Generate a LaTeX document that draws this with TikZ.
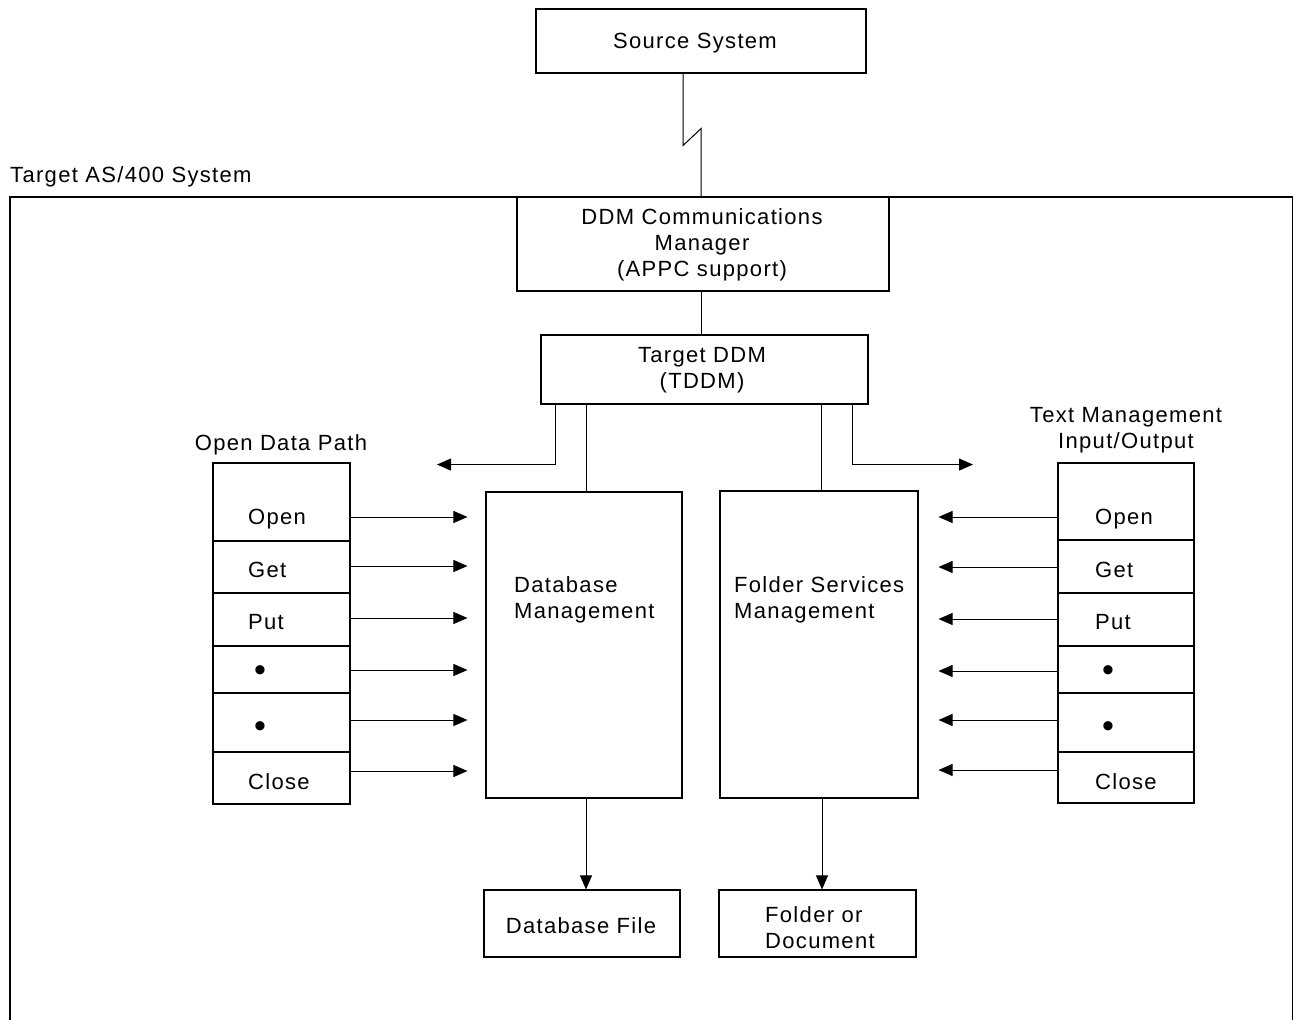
\documentclass[tikz,border=0pt]{standalone}
\usepackage{fontspec}
\setmainfont{Liberation Sans}[LetterSpace=6]
\usetikzlibrary{arrows.meta,calc}

\begin{document}
\begin{tikzpicture}[x=1pt,y=-1pt,
  every node/.style={font=\fontsize{22}{26}\selectfont, inner sep=0pt},
  box/.style={draw, line width=1.1pt, rectangle},
  cell/.style={draw, line width=1.1pt, rectangle, minimum width=137pt},
  lbl/.style={align=left},
  dot/.style={font=\fontsize{34}{34}\selectfont},
  conn/.style={line width=1pt},
  arr/.style={line width=0.9pt, -{Triangle[length=14pt,width=12pt]}}]

\useasboundingbox (0,0) rectangle (1294,1020);

% enclosing system frame, open at the bottom
\draw[line width=1.1pt] (10,1030) -- (10,197) -- (1292.5,197) -- (1292.5,1030);
\node[anchor=base west] (syslbl) at (10,182) {Target AS/400 System};

% main boxes
\node[box, minimum width=330pt, minimum height=64pt] (src) at (701,41) {};
\node (srctxt) at (695,43) {Source System};
\node[box, minimum width=372pt, minimum height=94pt] (ddm) at (703,244) {};
\node[align=center] (ddmtxt) at (702,245)
  {DDM Communications\\Manager\\(APPC support)};
\node[box, minimum width=327pt, minimum height=69pt] (tddm) at (704.5,369.5) {};
\node[align=center] (tddmtxt) at (702,370) {Target DDM\\(TDDM)};
\node[box, minimum width=196pt, minimum height=306pt] (dbm) at (584,645) {};
\node[box, minimum width=198pt, minimum height=307pt] (fsm) at (819,644.5) {};
\node[lbl, anchor=west] (dbmlbl) at (514,599.5) {Database\\Management};
\node[lbl, anchor=west] (fsmlbl) at (734,599.5) {Folder Services\\Management};
\node[box, minimum width=196pt, minimum height=67pt] (dbf) at (582,923.5) {};
\node (dbftxt) at (581,926) {Database File};
\node[box, minimum width=197pt, minimum height=67pt] (fod) at (817.5,923.5) {};
\node[lbl, anchor=west] (fodlbl) at (765,928) {Folder or\\Document};

% Open Data Path stack
\node (odplbl) at (281,445) {Open Data Path};
\node[cell, minimum height=78pt] (o1) at (281.5,502) {};
\node[cell, minimum height=52pt] (o2) at (281.5,567) {};
\node[cell, minimum height=53pt] (o3) at (281.5,619.5) {};
\node[cell, minimum height=47pt] (o4) at (281.5,669.5) {};
\node[cell, minimum height=59pt] (o5) at (281.5,722.5) {};
\node[cell, minimum height=52pt] (o6) at (281.5,778) {};
\node[anchor=base west] (ot1) at (248,524) {Open};
\node[anchor=base west] (ot2) at (248,577) {Get};
\node[anchor=base west] (ot3) at (248,629) {Put};
\node[dot] (ot4) at (260,674) {•};
\node[dot] (ot5) at (260,730) {•};
\node[anchor=base west] (ot6) at (248,789) {Close};

% Text Management Input/Output stack
\node[align=center] (tmlbl) at (1126,430) {Text Management\\Input/Output};
\node[cell, minimum width=136pt, minimum height=77pt] (r1) at (1126,501.5) {};
\node[cell, minimum width=136pt, minimum height=53pt] (r2) at (1126,566.5) {};
\node[cell, minimum width=136pt, minimum height=53pt] (r3) at (1126,619.5) {};
\node[cell, minimum width=136pt, minimum height=47pt] (r4) at (1126,669.5) {};
\node[cell, minimum width=136pt, minimum height=59pt] (r5) at (1126,722.5) {};
\node[cell, minimum width=136pt, minimum height=51pt] (r6) at (1126,777.5) {};
\node[anchor=base west] (rt1) at (1095,524) {Open};
\node[anchor=base west] (rt2) at (1095,577) {Get};
\node[anchor=base west] (rt3) at (1095,629) {Put};
\node[dot] (rt4) at (1108,674) {•};
\node[dot] (rt5) at (1108,730) {•};
\node[anchor=base west] (rt6) at (1095,789) {Close};

% communications link with break symbol
\draw[conn] ([xshift=-18pt]src.south) -- ++(0,72) -- ++(18,-17) -- (ddm.north -| src.south);
\draw[conn] (ddm.south -| src.south) -- (tddm.north -| src.south);

% TDDM to managers
\draw[conn] ([xshift=2pt]dbm.north |- tddm.south) -- ([xshift=2pt]dbm.north);
\draw[conn] ([xshift=2pt]fsm.north |- tddm.south) -- ([xshift=2pt]fsm.north);
\draw[arr] ([xshift=-149.5pt]tddm.south) -- ++(0,60) -- ++(-118,0);
\draw[arr] ([xshift=147.5pt]tddm.south) -- ++(0,60) -- ++(121,0);

% managers to stored objects
\draw[arr] ([xshift=2pt]dbm.south) -- ([xshift=2pt]dbm.south |- dbf.north);
\draw[arr] ([xshift=3pt]fsm.south) -- ([xshift=3pt]fsm.south |- fod.north);

% operation arrows into Database Management
\draw[arr] ([yshift=-15pt]o1.east) -- ($([yshift=-15pt]o1.east -| dbm.west)+(-18,0)$);
\draw[arr] ([yshift=1pt]o2.east) -- ($([yshift=1pt]o2.east -| dbm.west)+(-18,0)$);
\draw[arr] ([yshift=1.5pt]o3.east) -- ($([yshift=1.5pt]o3.east -| dbm.west)+(-18,0)$);
\draw[arr] ([yshift=-0.5pt]o4.east) -- ($([yshift=-0.5pt]o4.east -| dbm.west)+(-18,0)$);
\draw[arr] ([yshift=2.5pt]o5.east) -- ($([yshift=2.5pt]o5.east -| dbm.west)+(-18,0)$);
\draw[arr] ([yshift=7pt]o6.east) -- ($([yshift=7pt]o6.east -| dbm.west)+(-18,0)$);

% operation arrows into Folder Services Management
\draw[arr] ([yshift=-15.5pt]r1.west) -- ($([yshift=-15.5pt]r1.west -| fsm.east)+(20,0)$);
\draw[arr] ([yshift=-0.5pt]r2.west) -- ($([yshift=-0.5pt]r2.west -| fsm.east)+(20,0)$);
\draw[arr] ([yshift=0.5pt]r3.west) -- ($([yshift=0.5pt]r3.west -| fsm.east)+(20,0)$);
\draw[arr] ([yshift=-1.5pt]r4.west) -- ($([yshift=-1.5pt]r4.west -| fsm.east)+(20,0)$);
\draw[arr] ([yshift=2.5pt]r5.west) -- ($([yshift=2.5pt]r5.west -| fsm.east)+(20,0)$);
\draw[arr] ([yshift=7.5pt]r6.west) -- ($([yshift=7.5pt]r6.west -| fsm.east)+(20,0)$);

\end{tikzpicture}
\end{document}
